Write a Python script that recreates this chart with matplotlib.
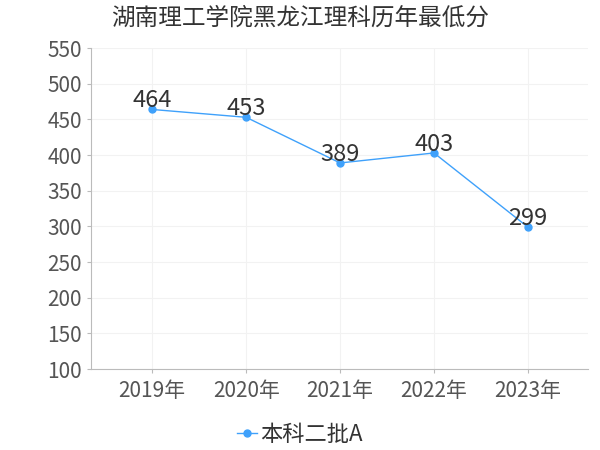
import matplotlib
matplotlib.use('Agg')
import matplotlib.pyplot as plt

plt.rcParams['font.family'] = ['Noto Sans CJK SC', 'DejaVu Sans']

years = ['2019年', '2020年', '2021年', '2022年', '2023年']
scores = [464, 453, 389, 403, 299]
series_name = '本科二批A'

fig = plt.figure(figsize=(6, 4.5), dpi=100)
ax = fig.add_axes([0.152, 0.18, 0.828, 0.713])

x = list(range(len(years)))
ax.plot(x, scores, color='#3fa1fb', lw=1, marker='o', ms=5, label=series_name, zorder=3)
for xi, v in zip(x, scores):
    ax.annotate(str(v), (xi, v), xytext=(0, -2), textcoords='offset points',
                ha='center', va='bottom', fontsize=17, color='#333333')

ax.set_xlim(-0.65, 4.64)
ax.set_ylim(100, 550)
ax.set_yticks(range(100, 551, 50))
ax.set_xticks(x)
ax.set_xticklabels(years)
ax.tick_params(axis='both', labelsize=15, colors='#555555', length=3, color='#bbbbbb')
ax.tick_params(axis='x', pad=5)
ax.grid(True, color='#f2f2f2', lw=0.8)
ax.set_axisbelow(True)
for s in ['top', 'right']:
    ax.spines[s].set_visible(False)
for s in ['left', 'bottom']:
    ax.spines[s].set_color('#bbbbbb')

fig.suptitle('湖南理工学院黑龙江理科历年最低分', x=0.5, y=0.985, fontsize=17, color='#333333')
fig.legend(loc='lower center', bbox_to_anchor=(0.5, -0.035), frameon=False, fontsize=16,
           handlelength=0.9, handletextpad=0.15, labelcolor='#333333')

fig.savefig('out.png', dpi=100)
